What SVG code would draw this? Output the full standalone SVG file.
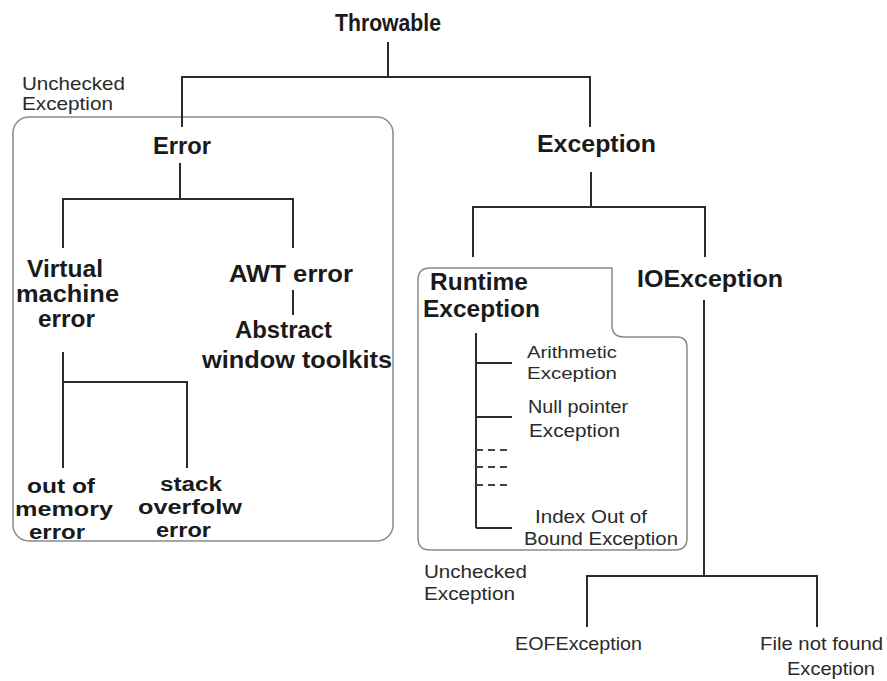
<svg xmlns="http://www.w3.org/2000/svg" width="887" height="681" viewBox="0 0 887 681">
<style>
.b{font-family:"Liberation Sans",Arial,sans-serif;font-weight:bold;font-size:24px;fill:#1a1a1a}
.s{font-size:20px}
.r{font-family:"Liberation Sans",Arial,sans-serif;font-size:18.5px;fill:#2a2a2a}
.t{font-size:17px}
.ln{stroke:#2b2b2b;stroke-width:2;fill:none}
.dash{stroke:#444;stroke-width:2;fill:none;stroke-dasharray:7,5}
.box{stroke:#8a8a8a;stroke-width:1.5;fill:none}
</style>
<rect width="887" height="681" fill="#fff"/>
<g id="error-box"><rect class="box" x="13" y="117" width="380" height="424" rx="16"/></g>
<g id="runtime-box"><path class="box" d="M430 268 H612 V325 Q612 337 624 337 H677 Q687 337 687 347 V538 Q687 550 675 550 H430 Q418 550 418 538 V280 Q418 268 430 268 Z"/></g>
<g id="connectors">
<path class="ln" d="M388 42 V77 M182 127 V77 H590 V127"/>
<path class="ln" d="M180 163 V199 M63 248 V199 H293 V248"/>
<path class="ln" d="M293 290 V315"/>
<path class="ln" d="M63 352 V468 M63 382 H187 V468"/>
<path class="ln" d="M591 172 V207 M473 257 V207 H705 V257"/>
<path class="ln" d="M476 333 V528 M476 363 H512 M476 417 H512 M476 528 H512"/>
<path class="dash" d="M476 450 H512 M476 467 H512 M476 485 H512"/>
<path class="ln" d="M704 300 V576 M587 627 V576 H817 V627"/>
</g>
<g id="throwable"><text class="b" x="335" y="31" textLength="106" lengthAdjust="spacingAndGlyphs">Throwable</text></g>
<g id="unchecked1"><text class="r" x="22" y="90" textLength="103" lengthAdjust="spacingAndGlyphs">Unchecked</text><text class="r" x="22" y="110" textLength="91" lengthAdjust="spacingAndGlyphs">Exception</text></g>
<g id="error"><text class="b" x="153" y="154" textLength="58" lengthAdjust="spacingAndGlyphs">Error</text></g>
<g id="exception"><text class="b" x="537" y="152" textLength="119" lengthAdjust="spacingAndGlyphs">Exception</text></g>
<g id="vm-error"><text class="b" x="27" y="277" textLength="76" lengthAdjust="spacingAndGlyphs">Virtual</text><text class="b" x="16" y="302" textLength="103" lengthAdjust="spacingAndGlyphs">machine</text><text class="b" x="38" y="327" textLength="57" lengthAdjust="spacingAndGlyphs">error</text></g>
<g id="awt-error"><text class="b" x="229" y="282" textLength="124" lengthAdjust="spacingAndGlyphs">AWT error</text></g>
<g id="awt-toolkits"><text class="b" x="235" y="338" textLength="97" lengthAdjust="spacingAndGlyphs">Abstract</text><text class="b" x="202" y="368" textLength="190" lengthAdjust="spacingAndGlyphs">window toolkits</text></g>
<g id="oom"><text class="b s" x="27" y="493" textLength="68" lengthAdjust="spacingAndGlyphs">out of</text><text class="b s" x="15" y="516" textLength="98" lengthAdjust="spacingAndGlyphs">memory</text><text class="b s" x="29" y="539" textLength="56" lengthAdjust="spacingAndGlyphs">error</text></g>
<g id="stackoverflow"><text class="b s" x="160" y="491" textLength="62" lengthAdjust="spacingAndGlyphs">stack</text><text class="b s" x="138" y="514" textLength="104" lengthAdjust="spacingAndGlyphs">overfolw</text><text class="b s" x="156" y="537" textLength="55" lengthAdjust="spacingAndGlyphs">error</text></g>
<g id="runtime"><text class="b" x="430" y="290" textLength="98" lengthAdjust="spacingAndGlyphs">Runtime</text><text class="b" x="423" y="317" textLength="117" lengthAdjust="spacingAndGlyphs">Exception</text></g>
<g id="ioexception"><text class="b" x="637" y="287" textLength="146" lengthAdjust="spacingAndGlyphs">IOException</text></g>
<g id="arith"><text class="r t" x="527" y="358" textLength="90" lengthAdjust="spacingAndGlyphs">Arithmetic</text><text class="r t" x="527" y="379" textLength="90" lengthAdjust="spacingAndGlyphs">Exception</text></g>
<g id="nullptr"><text class="r" x="528" y="413" textLength="100" lengthAdjust="spacingAndGlyphs">Null pointer</text><text class="r" x="529" y="437" textLength="91" lengthAdjust="spacingAndGlyphs">Exception</text></g>
<g id="index"><text class="r" x="535" y="523" textLength="112" lengthAdjust="spacingAndGlyphs">Index Out of</text><text class="r" x="524" y="545" textLength="154" lengthAdjust="spacingAndGlyphs">Bound Exception</text></g>
<g id="unchecked2"><text class="r" x="424" y="578" textLength="103" lengthAdjust="spacingAndGlyphs">Unchecked</text><text class="r" x="424" y="600" textLength="91" lengthAdjust="spacingAndGlyphs">Exception</text></g>
<g id="eof"><text class="r" x="515" y="650" textLength="127" lengthAdjust="spacingAndGlyphs">EOFException</text></g>
<g id="fnf"><text class="r" x="760" y="650" textLength="123" lengthAdjust="spacingAndGlyphs">File not found</text><text class="r" x="787" y="675" textLength="88" lengthAdjust="spacingAndGlyphs">Exception</text></g>
</svg>
